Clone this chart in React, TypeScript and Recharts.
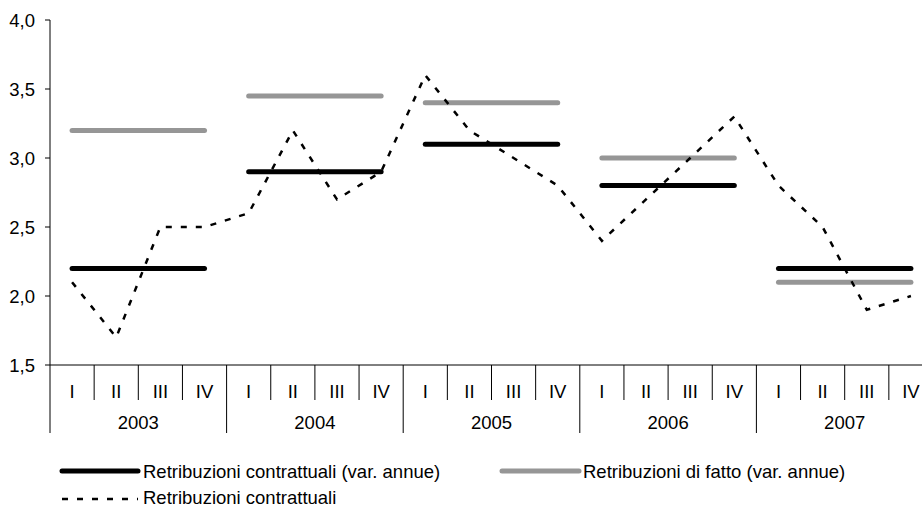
import { ComposedChart, Legend, Line, XAxis, YAxis } from "recharts";

const years = ["2003", "2004", "2005", "2006", "2007"];
const quarters = ["I", "II", "III", "IV"];
const contrAnnual = [2.2, 2.9, 3.1, 2.8, 2.2];
const fattoAnnual = [3.2, 3.45, 3.4, 3.0, 2.1];
const contrQuarterly = [
  2.1, 1.7, 2.5, 2.5,
  2.6, 3.2, 2.7, 2.9,
  3.6, 3.2, 3.0, 2.8,
  2.4, 2.7, 3.0, 3.3,
  2.8, 2.5, 1.9, 2.0,
];
const yTicks = [1.5, 2, 2.5, 3, 3.5, 4];
const seriesNames = [
  "Retribuzioni contrattuali (var. annue)",
  "Retribuzioni di fatto (var. annue)",
  "Retribuzioni contrattuali",
];

const FONT = "'Liberation Sans', Arial, sans-serif";
const FS = 18.5;
const GRAY = "#969696";
const W = 940;
const H = 506;
const margin = { top: 20, right: 7, bottom: 0, left: 0 };
const Y_AXIS_W = 50;
const BAND = (W - margin.left - margin.right - Y_AXIS_W) / contrQuarterly.length;

// one row per quarter; annual values only on that year's four quarters so lines break between years
const data = contrQuarterly.map((v, i) => {
  const y = Math.floor(i / 4);
  const row: Record<string, string | number> = { key: `${years[y]}-${quarters[i % 4]}`, qc: v };
  row[`c${y}`] = contrAnnual[y];
  row[`f${y}`] = fattoAnnual[y];
  return row;
});

function QuarterTick(props: any) {
  const { x, y } = props;
  const index = props.index ?? props.payload?.index ?? 0;
  const yearStart = index % 4 === 0;
  const left = x - BAND / 2;
  return (
    <g>
      <line x1={left} x2={left} y1={y} y2={y + (yearStart ? 68 : 35)} stroke="#000" strokeWidth={1} />
      <text x={x} y={y + 33} textAnchor="middle" fontSize={FS} fontFamily={FONT} fill="#000">
        {quarters[index % 4]}
      </text>
      {yearStart && (
        <text x={x + 1.5 * BAND} y={y + 64} textAnchor="middle" fontSize={FS} fontFamily={FONT} fill="#000">
          {years[index / 4]}
        </text>
      )}
    </g>
  );
}

function LegendBox() {
  const textStyle = { fontSize: FS, fontFamily: FONT, fill: "#000" };
  return (
    <svg width={922} height={48} style={{ display: "block", overflow: "visible" }}>
      <line x1={62} x2={138} y1={13} y2={13} stroke="#000" strokeWidth={5} strokeLinecap="round" />
      <text x={143} y={20} {...textStyle}>{seriesNames[0]}</text>
      <line x1={502} x2={579} y1={13} y2={13} stroke={GRAY} strokeWidth={5} strokeLinecap="round" />
      <text x={583} y={20} {...textStyle}>{seriesNames[1]}</text>
      <line x1={62} x2={138} y1={41} y2={41} stroke="#000" strokeWidth={2.5} strokeDasharray="6 9" />
      <text x={143} y={46} {...textStyle}>{seriesNames[2]}</text>
    </svg>
  );
}

export default function App() {
  return (
    <div style={{ position: "absolute", left: 0, top: 0, width: 922, height: 506, overflow: "hidden", background: "#fff" }}>
      <ComposedChart width={W} height={H} data={data} margin={margin}>
        <XAxis
          dataKey="key"
          scale="band"
          interval={0}
          height={93}
          tickLine={false}
          tickSize={0}
          tickMargin={0}
          axisLine={{ stroke: "#000" }}
          tick={<QuarterTick />}
        />
        <YAxis
          domain={[1.5, 4]}
          ticks={yTicks}
          width={Y_AXIS_W}
          tickSize={5}
          tickMargin={10}
          axisLine={{ stroke: "#000" }}
          tickLine={{ stroke: "#000" }}
          tick={{ fill: "#000", fontSize: FS, fontFamily: FONT }}
          tickFormatter={(v: number) => v.toFixed(1).replace(".", ",")}
        />
        <Legend verticalAlign="bottom" align="left" height={48} content={<LegendBox />} />
        {years.map((_, y) => (
          <Line
            key={`f${y}`}
            dataKey={`f${y}`}
            type="linear"
            stroke={GRAY}
            strokeWidth={5}
            strokeLinecap="round"
            dot={false}
            activeDot={false}
            isAnimationActive={false}
          />
        ))}
        {years.map((_, y) => (
          <Line
            key={`c${y}`}
            dataKey={`c${y}`}
            type="linear"
            stroke="#000"
            strokeWidth={5}
            strokeLinecap="round"
            dot={false}
            activeDot={false}
            isAnimationActive={false}
          />
        ))}
        <Line
          dataKey="qc"
          type="linear"
          stroke="#000"
          strokeWidth={2.5}
          strokeDasharray="6 9"
          dot={false}
          activeDot={false}
          isAnimationActive={false}
        />
      </ComposedChart>
    </div>
  );
}
